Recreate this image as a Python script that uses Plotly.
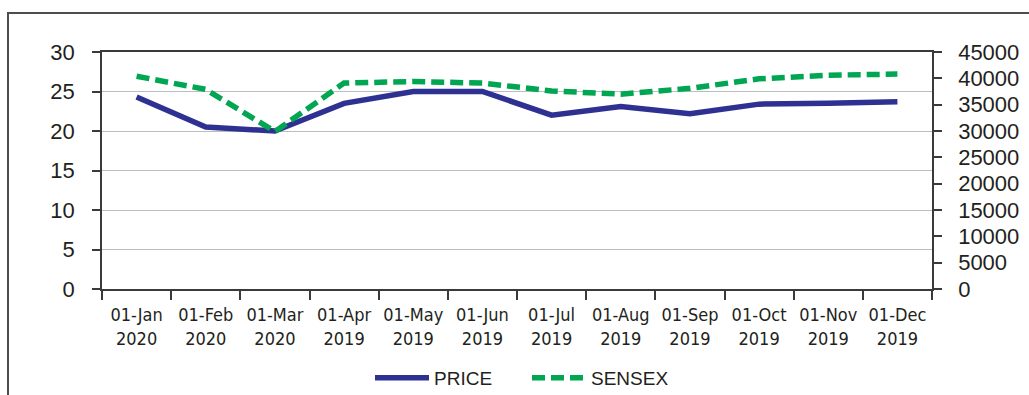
import plotly.graph_objects as go

# Monthly observations
months = ["01-Jan<br>2020", "01-Feb<br>2020", "01-Mar<br>2020", "01-Apr<br>2019",
          "01-May<br>2019", "01-Jun<br>2019", "01-Jul<br>2019", "01-Aug<br>2019",
          "01-Sep<br>2019", "01-Oct<br>2019", "01-Nov<br>2019", "01-Dec<br>2019"]
price = [24.3, 20.5, 20.0, 23.5, 25.0, 25.0, 22.0, 23.1, 22.2, 23.4, 23.5, 23.7]
sensex = [40400, 37900, 29900, 39100, 39400, 39100, 37600, 37000, 38100, 39900, 40600, 40800]

left_ticks = [0, 5, 10, 15, 20, 25, 30]
right_ticks = [0, 5000, 10000, 15000, 20000, 25000, 30000, 35000, 40000, 45000]

W, H = 1029, 395
ML, MR, MT, MB = 102, 97, 52, 106
PW, PH = W - ML - MR, H - MT - MB

def px_x(px):
    return (px - ML) / PW

def px_y(py):
    return (H - MB - py) / PH

TEXT = "#231f20"
AXIS = "#3a3a3a"

fig = go.Figure()
fig.add_trace(go.Scatter(
    x=months, y=price, name="PRICE", mode="lines",
    line=dict(color="#2e3192", width=5.5),
))
fig.add_trace(go.Scatter(
    x=months, y=sensex, name="SENSEX", mode="lines", yaxis="y2",
    line=dict(color="#00a651", width=5.5, dash="13px,6px"),
))

fig.update_layout(
    width=W, height=H,
    margin=dict(l=ML, r=MR, t=MT, b=MB, autoexpand=False),
    paper_bgcolor="white", plot_bgcolor="white",
    font=dict(family="Liberation Sans, Arial, sans-serif", color=TEXT),
    xaxis=dict(
        type="category", tickson="boundaries", ticks="outside", ticklen=9,
        tickcolor=AXIS, tickwidth=1.5, showline=True, linecolor=AXIS, linewidth=1.5,
        mirror=True, showgrid=False, automargin=False, tickangle=0,
        tickfont=dict(family="Liberation Sans Narrow, DejaVu Sans Condensed, sans-serif",
                      size=18, color=TEXT),
        ticklabelstandoff=9,
        range=[-0.5, len(months) - 0.5],
    ),
    yaxis=dict(
        range=[0, 30], tickvals=left_ticks, ticks="outside", ticklen=8,
        tickcolor=AXIS, tickwidth=1.5, showline=True, linecolor=AXIS, linewidth=1.5,
        showgrid=True, gridcolor="#bdbdbd", gridwidth=1, zeroline=False, automargin=False,
        tickfont=dict(size=22, color=TEXT), ticklabelstandoff=13,
    ),
    yaxis2=dict(
        range=[0, 45000], tickvals=right_ticks, tickformat="d", overlaying="y", side="right",
        ticks="outside", ticklen=8, tickcolor=AXIS, tickwidth=1.5, automargin=False,
        showline=True, linecolor=AXIS, linewidth=1.5, showgrid=False, zeroline=False,
        tickfont=dict(size=22, color=TEXT), ticklabelstandoff=12,
    ),
    showlegend=True,
    legend=dict(
        orientation="h", x=px_x(370), xanchor="left", y=px_y(378), yanchor="middle",
        font=dict(size=19, color=TEXT), itemwidth=54, entrywidth=88,
        bgcolor="rgba(0,0,0,0)",
    ),
    shapes=[dict(
        type="rect", xref="paper", yref="paper", layer="below",
        x0=px_x(8), x1=px_x(1060), y0=px_y(420), y1=px_y(13),
        line=dict(color="#4d4d4d", width=2), fillcolor="rgba(0,0,0,0)",
    )],
)

fig.write_html("out.html")
